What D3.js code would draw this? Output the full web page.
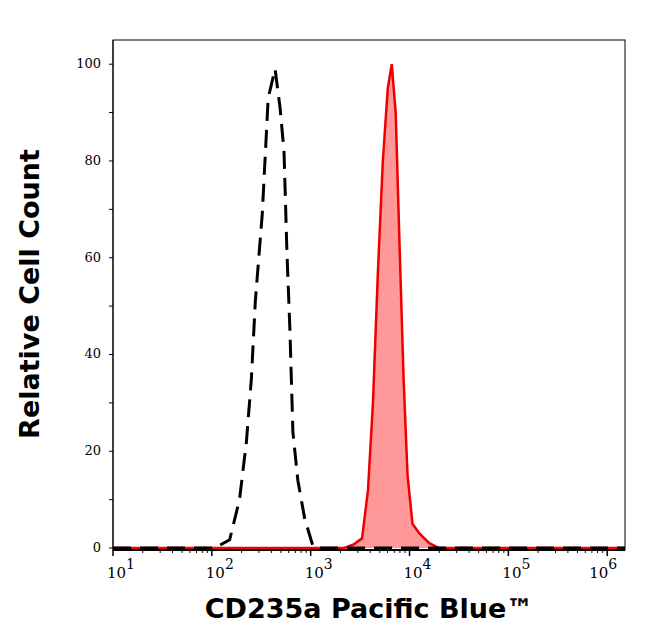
<!DOCTYPE html>
<html><head><meta charset="utf-8">
<script src="https://cdn.jsdelivr.net/npm/d3@7"></script>
<style>body{margin:0;background:#fff}</style>
</head><body><svg id="c" width="646" height="641"></svg>
<script>
// log10 of intensity and relative count
const unstainedLog = [1, 2.03, 2.18, 2.28, 2.35, 2.40, 2.44, 2.51, 2.57, 2.64, 2.69, 2.73, 2.76, 2.79, 2.82, 2.87, 2.94, 3.02, 3.05, 6.18]
const unstainedCount = [0, 0, 1.7, 10, 22, 35, 51, 69, 93, 99, 91, 82, 61, 45, 24, 14, 6, 0.6, 0, 0]
const stainedLog = [1, 3.34, 3.44, 3.52, 3.58, 3.63, 3.68, 3.73, 3.78, 3.82, 3.86, 3.90, 3.94, 3.98, 4.03, 4.10, 4.20, 4.30, 6.18]
const stainedCount = [0, 0, 0.8, 2, 12, 30, 57, 80, 95, 100, 90, 62, 35, 15, 5, 3, 1, 0, 0]
const yTicks = [0, 20, 40, 60, 80, 100]
const xDecades = [1, 2, 3, 4, 5, 6]

const svg = d3.select('#c')
const margin = { top: 40, right: 21, bottom: 91, left: 113 }
const width = 646, height = 641
const x = d3.scaleLinear().domain([1, 6.18]).range([margin.left, width - margin.right])
const y = d3.scaleLinear().domain([0, 105]).range([548, margin.top])
const y0 = 550

svg.append('rect').attr('x', margin.left).attr('y', margin.top)
    .attr('width', width - margin.right - margin.left).attr('height', y0 - margin.top)
    .attr('fill', 'none').attr('stroke', '#000').attr('stroke-width', 1)

const line = d3.line().x(d => x(d[0])).y(d => y(d[1]))
const area = d3.area().x(d => x(d[0])).y0(y(0)).y1(d => y(d[1]))
const red = d3.zip(stainedLog, stainedCount)
const black = d3.zip(unstainedLog, unstainedCount)

svg.append('path').attr('d', area(red)).attr('fill', '#ff9999')
svg.append('path').attr('d', line(red)).attr('fill', 'none').attr('stroke', '#ee0000').attr('stroke-width', 2.5)
svg.append('path').attr('d', line(black)).attr('fill', 'none').attr('stroke', '#000')
    .attr('stroke-width', 3).attr('stroke-dasharray', '18,9')

// x axis
const gx = svg.append('g')
gx.append('line').attr('x1', margin.left).attr('x2', width - margin.right).attr('y1', y0).attr('y2', y0).attr('stroke', '#000').attr('stroke-width', 2)
const minor = []
for (let d = 1; d <= 6; d++) for (let k = 2; k <= 9; k++) { const v = d + Math.log10(k); if (v <= 6.18) minor.push(v) }
gx.selectAll('.mn').data(minor).join('line').attr('x1', d => x(d)).attr('x2', d => x(d))
    .attr('y1', y0).attr('y2', y0 + 3).attr('stroke', '#000')
gx.selectAll('.mj').data(xDecades).join('line').attr('x1', d => x(d)).attr('x2', d => x(d))
    .attr('y1', y0).attr('y2', y0 + 6).attr('stroke', '#000').attr('stroke-width', 1.5)
const lbl = gx.selectAll('.lb').data(xDecades).join('text')
    .attr('x', d => x(d) + (d === 6 ? -4 : 8)).attr('y', y0 + 28).attr('text-anchor', 'middle')
    .attr('font-family', 'DejaVu Serif').attr('font-size', 15)
lbl.append('tspan').text('10')
lbl.append('tspan').attr('dy', -9).attr('font-size', 14).text(d => d)

// y axis
const gy = svg.append('g')
gy.append('line').attr('x1', margin.left).attr('x2', margin.left).attr('y1', margin.top).attr('y2', y0).attr('stroke', '#000')
gy.selectAll('.mn').data(d3.range(0, 101, 10)).join('line').attr('x1', margin.left - 4).attr('x2', margin.left)
    .attr('y1', d => y(d)).attr('y2', d => y(d)).attr('stroke', '#000')
gy.selectAll('text').data(yTicks).join('text').attr('x', margin.left - 12).attr('y', d => y(d) + 4)
    .attr('text-anchor', 'end').attr('font-family', 'DejaVu Serif').attr('font-size', 13).text(d => d)

svg.append('text').attr('x', 369).attr('y', 618).attr('text-anchor', 'middle')
    .attr('font-family', 'DejaVu Sans').attr('font-weight', 'bold').attr('font-size', 27).text('CD235a Pacific Blue™')
svg.append('text').attr('transform', 'translate(39,294) rotate(-90)').attr('text-anchor', 'middle')
    .attr('font-family', 'DejaVu Sans').attr('font-weight', 'bold').attr('font-size', 27).text('Relative Cell Count')
</script></body></html>
